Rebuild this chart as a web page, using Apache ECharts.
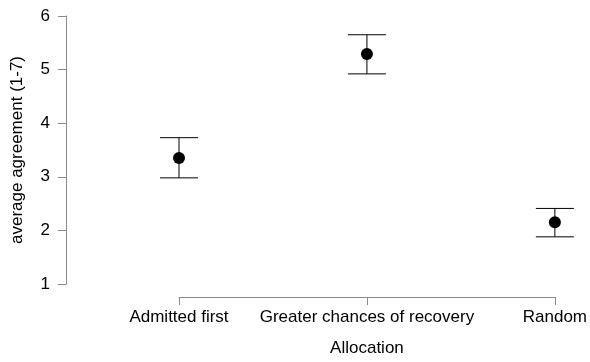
<!DOCTYPE html>
<html>
<head>
<meta charset="utf-8">
<script src="https://cdn.jsdelivr.net/npm/echarts@6/dist/echarts.min.js"></script>
<style>html,body{margin:0;padding:0;background:#fff;}#c{width:590px;height:362px;}</style>
</head>
<body>
<div id="c"></div>
<script>
const categories = ['Admitted first', 'Greater chances of recovery', 'Random'];
const means = [3.35, 5.29, 2.15];
const lower = [2.98, 4.92, 1.88];
const upper = [3.73, 5.65, 2.41];
const yTicks = [1, 2, 3, 4, 5, 6];

const chart = echarts.init(document.getElementById('c'), null, {renderer: 'canvas'});
const font = 'Liberation Sans, Arial, Helvetica, sans-serif';
const axisColor = '#8a8a8a';
const fs = 17;

const errData = categories.map((c, i) => [i, lower[i], upper[i]]);

chart.setOption({
  animation: false,
  grid: {left: 179, right: 33, top: 16, bottom: 77, containLabel: false},
  xAxis: {
    type: 'category',
    data: categories,
    boundaryGap: false,
    offset: 13,
    name: 'Allocation',
    nameLocation: 'middle',
    nameGap: 43,
    nameTextStyle: {color: '#000', fontSize: fs, fontFamily: font},
    axisLine: {lineStyle: {color: axisColor, width: 1}},
    axisTick: {alignWithLabel: true, length: 8, lineStyle: {color: axisColor}},
    axisLabel: {color: '#000', fontSize: fs, fontFamily: font, margin: 12, interval: 0},
    splitLine: {show: false}
  },
  yAxis: {
    type: 'value',
    min: yTicks[0],
    max: yTicks[yTicks.length - 1],
    interval: 1,
    offset: 113,
    name: 'average agreement (1-7)',
    nameLocation: 'middle',
    nameGap: 40,
    nameTextStyle: {color: '#000', fontSize: fs, fontFamily: font},
    axisLine: {show: true, lineStyle: {color: axisColor, width: 1}},
    axisTick: {show: true, length: 8, lineStyle: {color: axisColor}},
    axisLabel: {color: '#000', fontSize: fs, fontFamily: font, margin: 16},
    splitLine: {show: false}
  },
  series: [
    {
      type: 'custom',
      data: errData,
      renderItem: function (params, api) {
        const x = api.value(0);
        const lo = api.coord([x, api.value(1)]);
        const hi = api.coord([x, api.value(2)]);
        const hw = 19;
        const st = {stroke: '#000', lineWidth: 1};
        return {
          type: 'group',
          children: [
            {type: 'line', shape: {x1: lo[0], y1: lo[1], x2: hi[0], y2: hi[1]}, style: st},
            {type: 'line', shape: {x1: lo[0] - hw, y1: lo[1], x2: lo[0] + hw, y2: lo[1]}, style: st},
            {type: 'line', shape: {x1: hi[0] - hw, y1: hi[1], x2: hi[0] + hw, y2: hi[1]}, style: st}
          ]
        };
      },
      z: 2
    },
    {
      type: 'scatter',
      data: means.map((m, i) => [i, m]),
      symbol: 'circle',
      symbolSize: 12,
      itemStyle: {color: '#000', opacity: 1},
      z: 3
    }
  ]
});
</script>
</body>
</html>
